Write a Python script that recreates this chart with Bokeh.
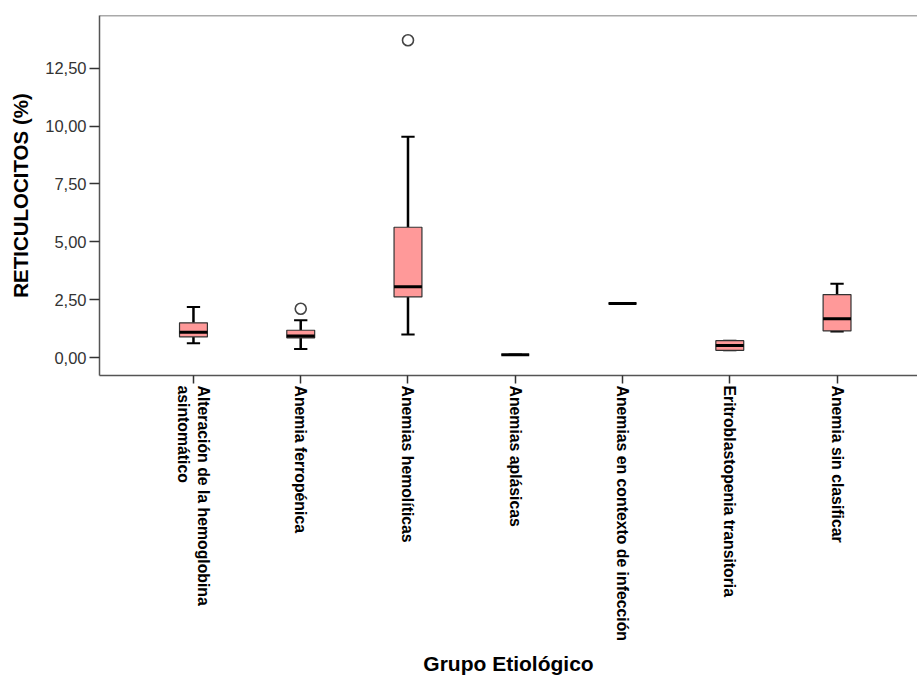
import math
from bokeh.plotting import figure
from bokeh.models import FixedTicker, Span, Range1d, ColumnDataSource
from bokeh.embed import file_html
from bokeh.resources import INLINE

# ---- data ----
categories = [
    "Alteración de la hemoglobina\nasintomático",
    "Anemia ferropénica",
    "Anemias hemolíticas",
    "Anemias aplásicas",
    "Anemias en contexto de infección",
    "Eritroblastopenia transitoria",
    "Anemia sin clasificar",
]
lower = [0.62, 0.37, 1.00, 0.12, 2.34, 0.31, 1.13]
q1 = [0.89, 0.85, 2.62, 0.12, 2.34, 0.31, 1.15]
median = [1.09, 0.93, 3.06, 0.12, 2.34, 0.52, 1.68]
q3 = [1.50, 1.18, 5.63, 0.12, 2.34, 0.73, 2.72]
upper = [2.18, 1.61, 9.54, 0.12, 2.34, 0.73, 3.19]
outlier_group = [1, 2]          # index into categories
outlier_value = [2.11, 13.71]
y_ticks = [0, 2.5, 5, 7.5, 10, 12.5]
y_tick_labels = ["0,00", "2,50", "5,00", "7,50", "10,00", "12,50"]

# ---- layout constants ----
BOX_W = 0.26
CAP_W = 0.124
X_START, X_END = 0.124, 7.75
Y_START, Y_END = -0.776, 14.78

xs = [i + 1 for i in range(len(categories))]

src = ColumnDataSource(dict(
    x=xs, lower=lower, q1=q1, median=median, q3=q3, upper=upper,
    bx0=[x - BOX_W / 2 for x in xs], bx1=[x + BOX_W / 2 for x in xs],
    cx0=[x - CAP_W / 2 for x in xs], cx1=[x + CAP_W / 2 for x in xs],
))
out_src = ColumnDataSource(dict(
    x=[xs[g] for g in outlier_group], y=outlier_value,
))

p = figure(
    width=917, height=677,
    x_range=Range1d(X_START, X_END), y_range=Range1d(Y_START, Y_END),
    output_backend="svg", toolbar_location=None, tools="",
    min_border_left=99, min_border_top=15, min_border_right=0, min_border_bottom=301,
    background_fill_color="white", border_fill_color="white",
)
p.outline_line_color = None
p.grid.visible = False

# top border line
p.add_layout(Span(location=Y_END, dimension="width", line_color="#555555", line_width=1.5))

# whiskers
p.segment("x", "q3", "x", "upper", source=src, line_color="black", line_width=2.5)
p.segment("x", "lower", "x", "q1", source=src, line_color="black", line_width=2.5)
# caps
p.segment("cx0", "upper", "cx1", "upper", source=src, line_color="black", line_width=2)
p.segment("cx0", "lower", "cx1", "lower", source=src, line_color="black", line_width=2)
# boxes
p.vbar(x="x", width=BOX_W, bottom="q1", top="q3", source=src,
       fill_color="#FF9999", line_color="#333333", line_width=1.2)
# medians
p.segment("bx0", "median", "bx1", "median", source=src, line_color="black", line_width=3)
# outliers
p.scatter("x", "y", source=out_src, marker="circle", size=11,
          fill_color="white", line_color="#444444", line_width=1.6)

# y axis
ya = p.yaxis[0]
ya.ticker = FixedTicker(ticks=y_ticks, minor_ticks=[])
ya.major_label_overrides = {t: l for t, l in zip(y_ticks, y_tick_labels)}
ya.major_label_text_font = "Liberation Sans"
ya.major_label_text_font_size = "16.5px"
ya.major_label_text_color = "#333333"
ya.major_tick_out = 10
ya.major_tick_in = 0
ya.minor_tick_out = 0
ya.minor_tick_in = 0
ya.major_label_standoff = 3
ya.axis_line_color = "#555555"
ya.axis_line_width = 1.5
ya.major_tick_line_color = "#333333"
ya.major_tick_line_width = 1.5
ya.axis_label = "RETICULOCITOS (%)"
ya.axis_label_text_font = "Liberation Sans"
ya.axis_label_text_font_size = "20.5px"
ya.axis_label_text_font_style = "bold"
ya.axis_label_text_color = "black"
ya.axis_label_standoff = 10

# x axis
xa = p.xaxis[0]
xa.ticker = FixedTicker(ticks=xs, minor_ticks=[])
xa.major_label_overrides = {x: c for x, c in zip(xs, categories)}
xa.major_label_orientation = -math.pi / 2
xa.major_label_text_font = "Liberation Sans"
xa.major_label_text_font_size = "15.8px"
xa.major_label_text_font_style = "bold"
xa.major_label_text_color = "black"
xa.major_tick_out = 8
xa.major_tick_in = 0
xa.minor_tick_out = 0
xa.minor_tick_in = 0
xa.major_label_standoff = 2
xa.axis_line_color = "#555555"
xa.axis_line_width = 1.5
xa.major_tick_line_color = "#333333"
xa.major_tick_line_width = 1.5
xa.axis_label = "Grupo Etiológico"
xa.axis_label_text_font = "Liberation Sans"
xa.axis_label_text_font_size = "21px"
xa.axis_label_text_font_style = "bold"
xa.axis_label_text_color = "black"
xa.axis_label_standoff = 8

open("out.html", "w").write(file_html(p, INLINE))
